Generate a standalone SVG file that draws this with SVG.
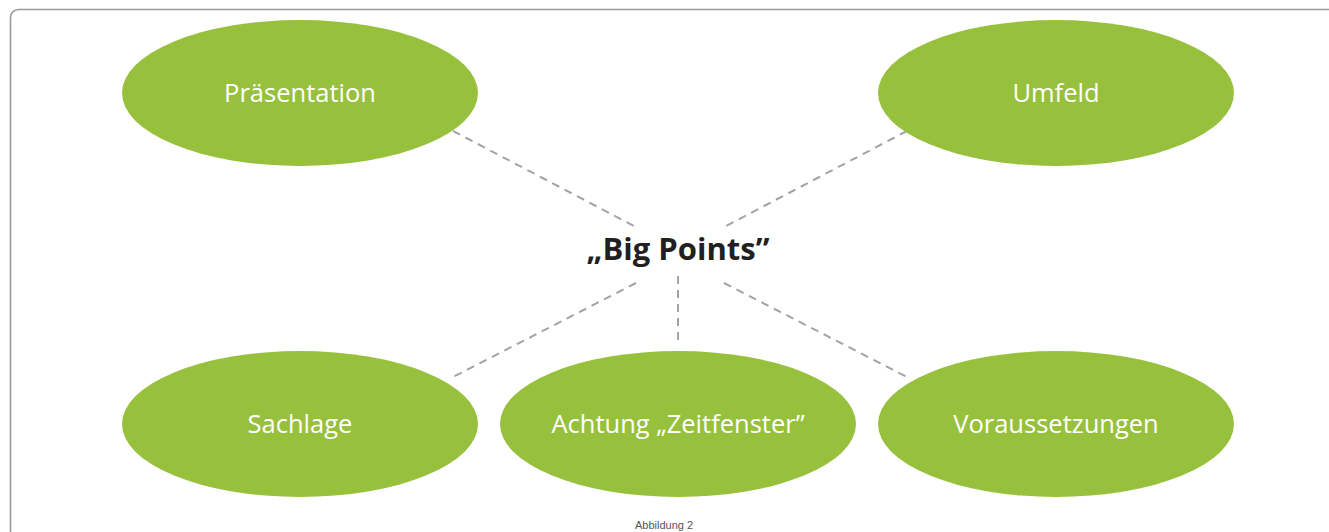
<svg xmlns="http://www.w3.org/2000/svg" width="1329" height="532" viewBox="0 0 1329 532">
<style>
.node ellipse{fill:#97c13d}
.node text{fill:#fff;font-family:"Open Sans","Noto Sans",sans-serif;font-size:25.5px;text-anchor:middle}
.conn line{stroke:#a3a3a3;stroke-width:2;stroke-dasharray:8 6;fill:none}
</style>
<rect x="10.5" y="9.5" width="1340" height="540" rx="8" fill="#fff" stroke="#9a9a9a" stroke-width="1.6"/>
<g id="connectors" class="conn">
<line x1="453" y1="131" x2="636" y2="227"/>
<line x1="907" y1="131" x2="724" y2="227"/>
<line x1="636" y1="283" x2="453" y2="377"/>
<line x1="678" y1="276" x2="678" y2="341"/>
<line x1="724" y1="283" x2="907" y2="377"/>
</g>
<g id="center"><text x="678" y="260" text-anchor="middle" font-family="'Open Sans','Noto Sans',sans-serif" font-weight="bold" font-size="31" fill="#231f20">„Big Points”</text></g>
<g id="praesentation" class="node"><ellipse cx="300" cy="93" rx="178" ry="73"/><text x="300" y="102">Präsentation</text></g>
<g id="umfeld" class="node"><ellipse cx="1056" cy="93" rx="178" ry="73"/><text x="1056" y="102">Umfeld</text></g>
<g id="sachlage" class="node"><ellipse cx="300" cy="424" rx="178" ry="73"/><text x="300" y="433">Sachlage</text></g>
<g id="zeitfenster" class="node"><ellipse cx="678" cy="424" rx="178" ry="73"/><text x="678" y="433">Achtung „Zeitfenster”</text></g>
<g id="voraussetzungen" class="node"><ellipse cx="1056" cy="424" rx="178" ry="73"/><text x="1056" y="433">Voraussetzungen</text></g>
<text x="664" y="529" text-anchor="middle" font-family="'Liberation Sans',Arial,sans-serif" font-size="11" fill="#555">Abbildung 2</text>
</svg>
